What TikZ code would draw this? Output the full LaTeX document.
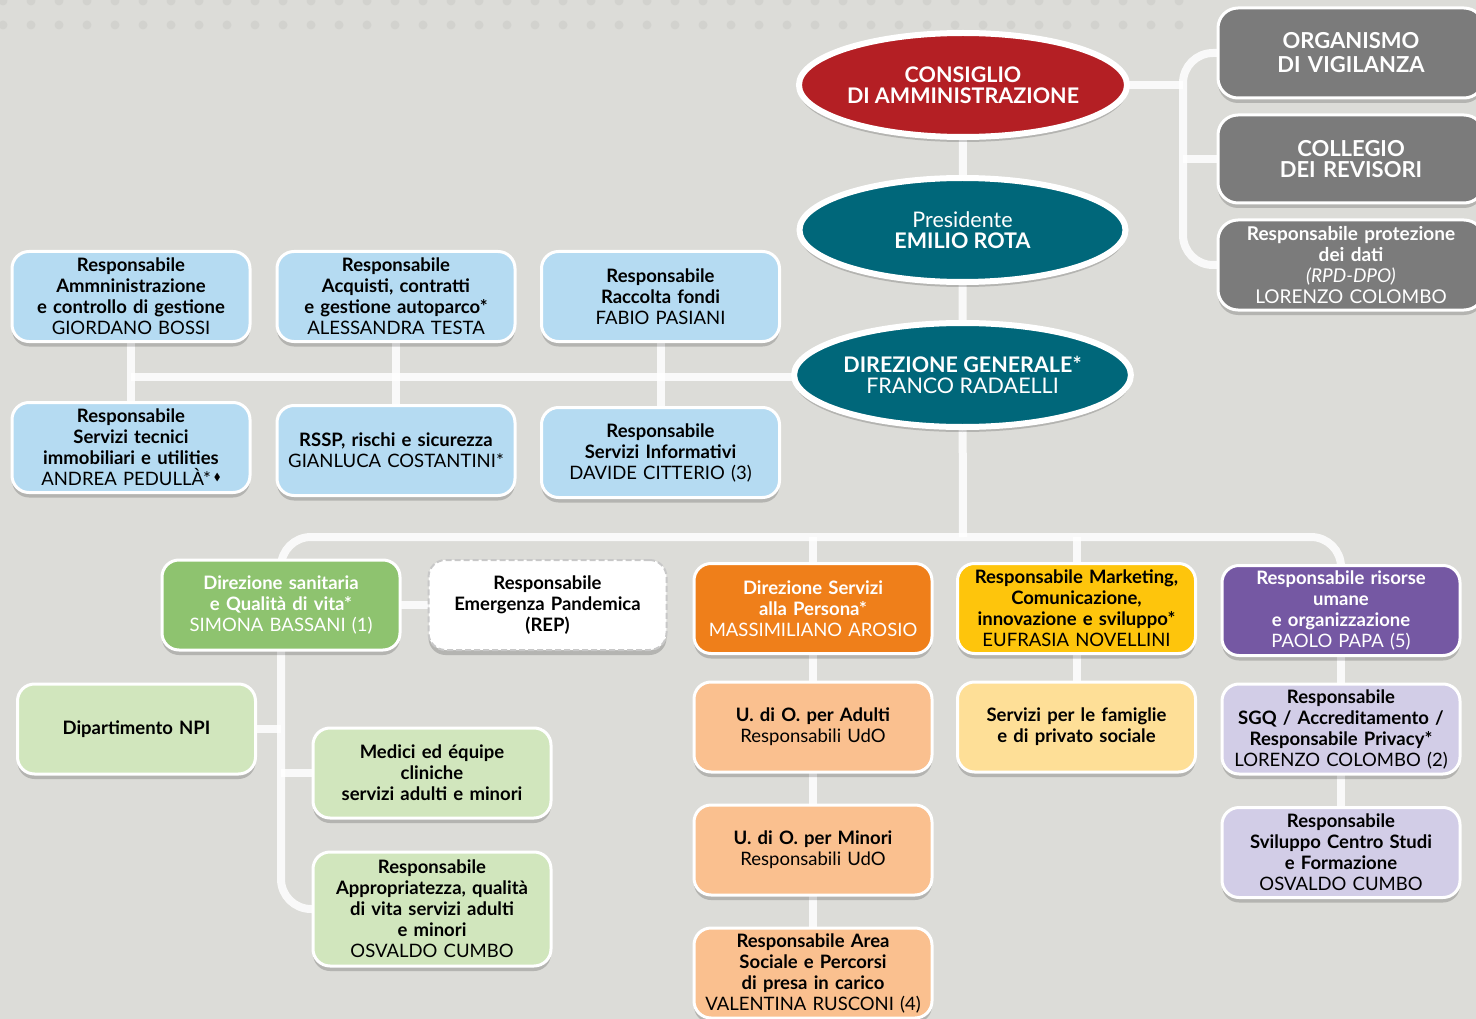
\documentclass[tikz,border=0pt]{standalone}
\usepackage{fontspec}
\setmainfont{Lato}
\usepackage{amssymb}
\usetikzlibrary{shapes.geometric,shadows}
\definecolor{bgc}{HTML}{DCDCD8}
\definecolor{dotc}{HTML}{D2D2CE}
\definecolor{cred}{HTML}{B41F24}
\definecolor{cteal}{HTML}{00677A}
\definecolor{cgray}{HTML}{7B7B7B}
\definecolor{cblue}{HTML}{B5DBF2}
\definecolor{cgreen}{HTML}{8EC36F}
\definecolor{clgreen}{HTML}{D1E6BD}
\definecolor{corange}{HTML}{EF7F1A}
\definecolor{clorange}{HTML}{FAC08F}
\definecolor{cyellow}{HTML}{FEC50C}
\definecolor{clyellow}{HTML}{FEDF97}
\definecolor{cpurple}{HTML}{7558A3}
\definecolor{clav}{HTML}{D2CDE7}
\definecolor{cdash}{HTML}{C8C8C8}
\pgfdeclarelayer{bglayer}
\pgfdeclarelayer{edges}
\pgfsetlayers{bglayer,edges,main}
\tikzset{
  shad/.style={drop shadow={shadow xshift=0pt,shadow yshift=-5pt,opacity=0.18,fill=black}},
  box/.style={rectangle, rounded corners=17pt, draw=white, line width=3pt,
    minimum width=238pt, minimum height=90pt, text width=234pt, align=center,
    inner sep=0pt, font=\fontsize{18.5}{21}\selectfont, shad},
  bluebox/.style={box, fill=cblue},
  greenbox/.style={box, fill=cgreen, text=white},
  lgreenbox/.style={box, fill=clgreen},
  orangebox/.style={box, fill=corange, text=white},
  lorangebox/.style={box, fill=clorange},
  yellowbox/.style={box, fill=cyellow},
  lyellowbox/.style={box, fill=clyellow},
  purplebox/.style={box, fill=cpurple, text=white},
  lavbox/.style={box, fill=clav},
  graybox/.style={box, fill=cgray, text=white, minimum width=266pt, text width=262pt, rounded corners=20pt},
  repbox/.style={box, fill=white, draw=cdash, line width=2pt, dash pattern=on 6pt off 3pt},
  oval/.style={ellipse, draw=white, line width=6pt, minimum width=326pt, minimum height=104pt,
    inner sep=0pt, align=center, text=white, font=\fontsize{21.5}{21}\selectfont, shad},
  conn/.style={draw=white, line width=8pt, opacity=0.85},
  dot/.style={fill=dotc}
}
\begin{document}
\begin{tikzpicture}[x=1pt,y=-1pt]
\useasboundingbox (0,0) rectangle (1476,1019);
\begin{pgfonlayer}{bglayer}
\fill[bgc] (0,0) rectangle (1476,1019);
\foreach \i in {0,...,42} {
  \fill[dot] (3+28*\i,1) circle (4.5);
  \fill[dot] (3+28*\i,25) circle (4.5);
}
\end{pgfonlayer}

% ovals
\node[oval, fill=cred] (cda) at (963,85) {\textbf{CONSIGLIO}\\\textbf{DI AMMINISTRAZIONE}};
\node[oval, fill=cteal] (pres) at (962.5,230) {Presidente\\\textbf{EMILIO ROTA}};
\node[oval, fill=cteal] (dg) at (962.5,375) {\textbf{DIREZIONE GENERALE*}\\FRANCO RADAELLI};

% right gray boxes
\node[graybox, font=\fontsize{22}{24}\selectfont] (org) at (1351,53) {\textbf{ORGANISMO}\\\textbf{DI VIGILANZA}};
\node[graybox, font=\fontsize{22}{21}\selectfont, minimum height=88pt] (col) at (1351,159) {\textbf{COLLEGIO}\\\textbf{DEI REVISORI}};
\node[graybox, font=\fontsize{19}{21}\selectfont] (rpd) at (1351,265) {\textbf{Responsabile protezione}\\\textbf{dei dati}\\\textit{(RPD-DPO)}\\LORENZO COLOMBO};

% staff blue boxes
\node[bluebox] (b1) at (131,296.5) {\textbf{Responsabile}\\\textbf{Ammninistrazione}\\\textbf{e controllo di gestione}\\GIORDANO BOSSI};
\node[bluebox] (b2) at (396,296.5) {\textbf{Responsabile}\\\textbf{Acquisti, contratti}\\\textbf{e gestione autoparco*}\\ALESSANDRA TESTA};
\node[bluebox] (b3) at (660.5,296.5) {\textbf{Responsabile}\\\textbf{Raccolta fondi}\\FABIO PASIANI};
\node[bluebox] (b4) at (131,447.5) {\textbf{Responsabile}\\\textbf{Servizi tecnici}\\\textbf{immobiliari e utilities}\\ANDREA PEDULLÀ*\,\raisebox{0.6ex}{\scalebox{0.55}{$\blacklozenge$}}};
\node[bluebox] (b5) at (396,450.5) {\textbf{RSSP, rischi e sicurezza}\\GIANLUCA COSTANTINI*};
\node[bluebox] (b6) at (660.5,452.5) {\textbf{Responsabile}\\\textbf{Servizi Informativi}\\DAVIDE CITTERIO (3)};

% main line boxes
\node[greenbox] (ds) at (281,605) {\textbf{Direzione sanitaria}\\\textbf{e Qualità di vita*}\\SIMONA BASSANI (1)};
\node[repbox] (rep) at (547.5,605) {\textbf{Responsabile}\\\textbf{Emergenza Pandemica}\\\textbf{(REP)}};
\node[orangebox] (dsp) at (813,608.5) {\textbf{Direzione Servizi}\\\textbf{alla Persona*}\\MASSIMILIANO AROSIO};
\node[yellowbox] (mk) at (1076.5,608.5) {\textbf{Responsabile Marketing,}\\\textbf{Comunicazione,}\\\textbf{innovazione e sviluppo*}\\EUFRASIA NOVELLINI};
\node[purplebox] (pp) at (1341,610.5) {\textbf{Responsabile risorse}\\\textbf{umane}\\\textbf{e organizzazione}\\PAOLO PAPA (5)};

\node[lgreenbox] (npi) at (136.5,729) {\textbf{Dipartimento NPI}};
\node[lgreenbox] (med) at (432,773) {\textbf{Medici ed équipe}\\\textbf{cliniche}\\\textbf{servizi adulti e minori}};
\node[lgreenbox, minimum height=114pt] (app) at (432,909) {\textbf{Responsabile}\\\textbf{Appropriatezza, qualità}\\\textbf{di vita servizi adulti}\\\textbf{e minori}\\OSVALDO CUMBO};

\node[lorangebox] (adu) at (813,727) {\textbf{U. di O. per Adulti}\\Responsabili UdO};
\node[lorangebox] (min) at (813,850) {\textbf{U. di O. per Minori}\\Responsabili UdO};
\node[lorangebox] (as) at (813,973) {\textbf{Responsabile Area}\\\textbf{Sociale e Percorsi}\\\textbf{di presa in carico}\\VALENTINA RUSCONI (4)};

\node[lyellowbox] (fam) at (1076.5,727) {\textbf{Servizi per le famiglie}\\\textbf{e di privato sociale}};

\node[lavbox] (sgq) at (1341,729) {\textbf{Responsabile}\\\textbf{SGQ / Accreditamento /}\\\textbf{Responsabile Privacy*}\\LORENZO COLOMBO (2)};
\node[lavbox] (cs) at (1341,852.5) {\textbf{Responsabile}\\\textbf{Sviluppo Centro Studi}\\\textbf{e Formazione}\\OSVALDO CUMBO};

\coordinate (brk) at (1183,83);
\coordinate (bus) at (963,537);
\coordinate (lbus) at (131,377);

\begin{pgfonlayer}{edges}
% governance spine
\draw[conn] (cda.center) -- (dg.center);
% bracket to control bodies
\draw[conn] (cda.center) -- (cda.center -| brk);
\draw[conn, rounded corners=30pt] (org.center) -- (org.center -| brk) -- (rpd.center -| brk) -- (rpd.center);
\draw[conn] (col.center) -- (col.center -| brk);
% staff bus
\draw[conn] (dg.center) -- (dg.center |- lbus) -- (lbus);
\draw[conn] (b1.center) -- (b4.center);
\draw[conn] (b2.center) -- (b5.center);
\draw[conn] (b3.center) -- (b6.center);
% line bus
\draw[conn] (dg.center) -- (bus);
\draw[conn, rounded corners=30pt] (app.center) -- (ds.center |- app.center) -- (ds.center |- bus) -- (pp.center |- bus) -- (pp.center);
\draw[conn] (ds.center) -- (rep.center);
\draw[conn] (npi.center) -- (npi.center -| ds.center);
\draw[conn] (med.center) -- (med.center -| ds.center);
\draw[conn] (dsp.center) -- (dsp.center |- bus);
\draw[conn] (dsp.center) -- (as.center);
\draw[conn] (mk.center) -- (mk.center |- bus);
\draw[conn] (mk.center) -- (fam.center);
\draw[conn] (pp.center) -- (cs.center);
\end{pgfonlayer}
\end{tikzpicture}
\end{document}
